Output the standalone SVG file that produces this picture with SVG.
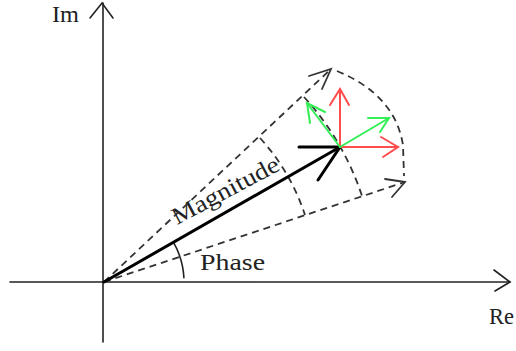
<svg xmlns="http://www.w3.org/2000/svg" width="516" height="351" viewBox="0 0 516 351">
<style>
.axis{stroke:#222;stroke-width:1.6;fill:none;stroke-linecap:round}
.dash{stroke:#333;stroke-width:1.8;fill:none;stroke-dasharray:7 5}
.dhead{stroke:#333;stroke-width:1.8;fill:none;stroke-linecap:round}
.vec{stroke:#000;stroke-width:3;fill:none;stroke-linecap:round}
.red{stroke:#ff4d4d;stroke-width:2;fill:none;stroke-linecap:round}
.green{stroke:#33ee55;stroke-width:2;fill:none;stroke-linecap:round}
.lbl{font-family:"Liberation Serif","DejaVu Serif",serif;font-size:24px;fill:#222}
</style>
<rect width="516" height="351" fill="#fff"/>
<g id="axes">
<line class="axis" x1="103" y1="3" x2="103" y2="342"/>
<polyline class="axis" points="90,18 102,3 113,18"/>
<line class="axis" x1="10" y1="282" x2="510" y2="282"/>
<polyline class="axis" points="494,270 510,282 495,291"/>
</g>
<g id="labels">
<text class="lbl" x="52" y="22" textLength="27" lengthAdjust="spacingAndGlyphs">Im</text>
<text class="lbl" x="489" y="324" textLength="25" lengthAdjust="spacingAndGlyphs">Re</text>
<text class="lbl" x="200" y="270" textLength="65" lengthAdjust="spacingAndGlyphs">Phase</text>
<text class="lbl" x="0" y="0" transform="translate(177,225) rotate(-28)" textLength="118" lengthAdjust="spacingAndGlyphs">Magnitude</text>
</g>
<g id="connectors">
<line class="dash" x1="104" y1="282" x2="331" y2="69"/>
<polyline class="dhead" points="309,76 331,69 322,89"/>
<line class="dash" x1="104" y1="282" x2="405" y2="182"/>
<polyline class="dhead" points="385,179 405,182 392,197"/>
<path class="dash" d="M337,71 Q 395,95 403,145 L 404,176"/>
<path class="dash" d="M304,97 A272,272 0 0 1 362,196"/>
<path class="dash" d="M260,138 A212,212 0 0 1 305,215"/>
<path class="axis" d="M173.4,242.2 A80,80 0 0 1 183.9,277.8"/>
</g>
<g id="magnitude-vector">
<line class="vec" x1="104" y1="282" x2="340" y2="147"/>
<polyline class="vec" points="299,147 340,147 318,180"/>
</g>
<g id="red-arrows">
<line class="red" x1="340" y1="147" x2="340" y2="89"/>
<polyline class="red" points="330,105 340,89 349,105"/>
<line class="red" x1="340" y1="147" x2="398" y2="147"/>
<polyline class="red" points="381,137 398,147 383,157"/>
</g>
<g id="green-arrows">
<line class="green" x1="340" y1="147" x2="307" y2="103"/>
<polyline class="green" points="325,112 307,103 310,123"/>
<line class="green" x1="340" y1="147" x2="389" y2="118"/>
<polyline class="green" points="368,118 389,118 380,132"/>
</g>
</svg>
